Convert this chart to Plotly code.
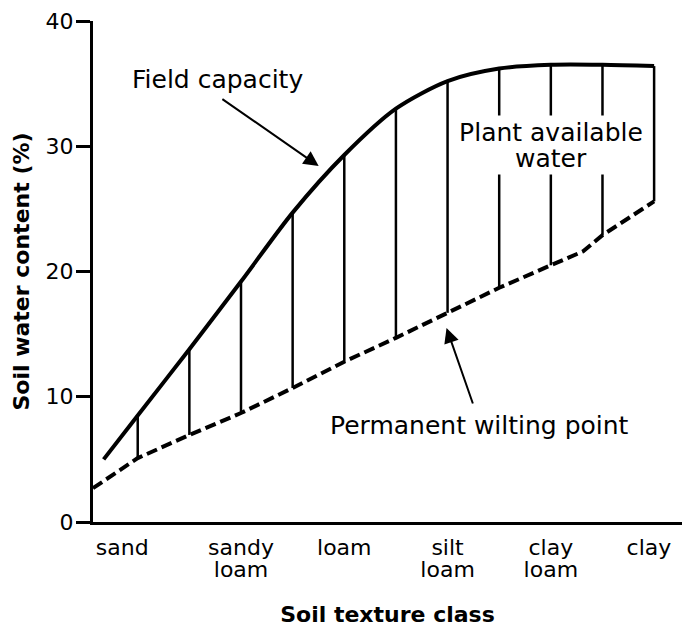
import plotly.graph_objects as go

# ---- data ----
category_row1 = ["sand", "sandy", "loam", "silt", "clay", "clay"]
category_row2 = ["", "loam", "", "loam", "loam", ""]
category_pos = [-0.15, 1, 2, 3, 4, 4.95]

fc_x = [-0.33, 0, 0.5, 1, 1.5, 2, 2.5, 3, 3.5, 4, 4.5, 5]
fc_y = [5.0, 8.5, 13.8, 19.2, 24.7, 29.3, 33.0, 35.2, 36.2, 36.5, 36.5, 36.4]

pwp_x = [-0.433, 0, 0.5, 1, 1.5, 2, 2.5, 3, 3.5, 4, 4.31, 4.5, 5]
pwp_y = [2.7, 5.1, 6.95, 8.7, 10.7, 12.8, 14.7, 16.7, 18.7, 20.5, 21.6, 22.9, 25.6]

hatch_x = [0, 0.5, 1, 1.5, 2, 2.5, 3, 3.5, 4, 4.5, 5]

FONT = "DejaVu Sans"

fc_lookup = dict(zip(fc_x, fc_y))
pwp_lookup = dict(zip(pwp_x, pwp_y))
hx, hy = [], []
for x in hatch_x:
    hx += [x, x, None]
    hy += [pwp_lookup[x], fc_lookup[x], None]

fig = go.Figure()
fig.add_trace(go.Scatter(x=hx, y=hy, mode="lines",
                         line=dict(color="black", width=2.5),
                         hoverinfo="skip", showlegend=False))
fig.add_trace(go.Scatter(x=fc_x, y=fc_y, mode="lines",
                         line=dict(color="black", width=4, shape="spline", smoothing=0.8),
                         name="Field capacity", showlegend=False))
fig.add_trace(go.Scatter(x=pwp_x, y=pwp_y, mode="lines",
                         line=dict(color="black", width=4, dash="11px,5px"),
                         name="Permanent wilting point", showlegend=False))
# invisible trace to anchor the second-row label axis
fig.add_trace(go.Scatter(x=[category_pos[0]], y=[0], xaxis="x2", mode="markers",
                         marker=dict(opacity=0), hoverinfo="skip", showlegend=False))

txt = dict(family=FONT, size=25, color="black")
ann = [
    dict(x=0.776, y=35.3, text="Field capacity", showarrow=False, font=txt),
    dict(x=1.752, y=28.42, ax=0.805, ay=33.85, axref="x", ayref="y", text="",
         showarrow=True, arrowhead=2, arrowsize=1.5, arrowwidth=2, arrowcolor="black"),
    dict(x=4.0, y=31.1, text="Plant available", showarrow=False, font=txt,
         bgcolor="white", width=188, height=30),
    dict(x=4.0, y=29.1, text="water", showarrow=False, font=txt,
         bgcolor="white", width=188, height=30),
    dict(x=3.31, y=7.74, text="Permanent wilting point", showarrow=False, font=txt),
    dict(x=2.99, y=15.49, ax=3.25, ay=9.34, axref="x", ayref="y", text="",
         showarrow=True, arrowhead=2, arrowsize=1.5, arrowwidth=2, arrowcolor="black"),
]

tickfont = dict(family=FONT, size=22, color="black")
fig.update_layout(
    width=682, height=627,
    margin=dict(l=93, r=0, t=21, b=105),
    paper_bgcolor="white", plot_bgcolor="white",
    annotations=ann,
    xaxis=dict(range=[-0.433, 5.27], showgrid=False, zeroline=False, automargin=False,
               showline=True, linewidth=3, linecolor="black", ticks="",
               tickvals=category_pos, ticktext=category_row1, tickfont=tickfont,
               ticklabelstandoff=4,
               title=dict(text="Soil texture class", standoff=50,
                          font=dict(family=FONT, size=22, color="black", weight="bold"))),
    xaxis2=dict(range=[-0.433, 5.27], overlaying="x", side="bottom", anchor="y",
                showgrid=False, zeroline=False, automargin=False, showline=False,
                ticks="", tickvals=category_pos, ticktext=category_row2,
                tickfont=tickfont, ticklabelstandoff=32),
    yaxis=dict(range=[0, 40], showgrid=False, zeroline=False, automargin=False,
               showline=True, linewidth=3, linecolor="black",
               ticks="outside", ticklen=14, tickwidth=3, tickcolor="black",
               tickvals=[0, 10, 20, 30, 40], tickfont=tickfont, ticklabelstandoff=-2,
               title=dict(text="Soil water content (%)", standoff=10,
                          font=dict(family=FONT, size=22, color="black", weight="bold"))),
)

fig.write_html("out.html", config={"displayModeBar": False},
               post_script="document.body.style.margin='0px';document.body.style.overflow='hidden';")
